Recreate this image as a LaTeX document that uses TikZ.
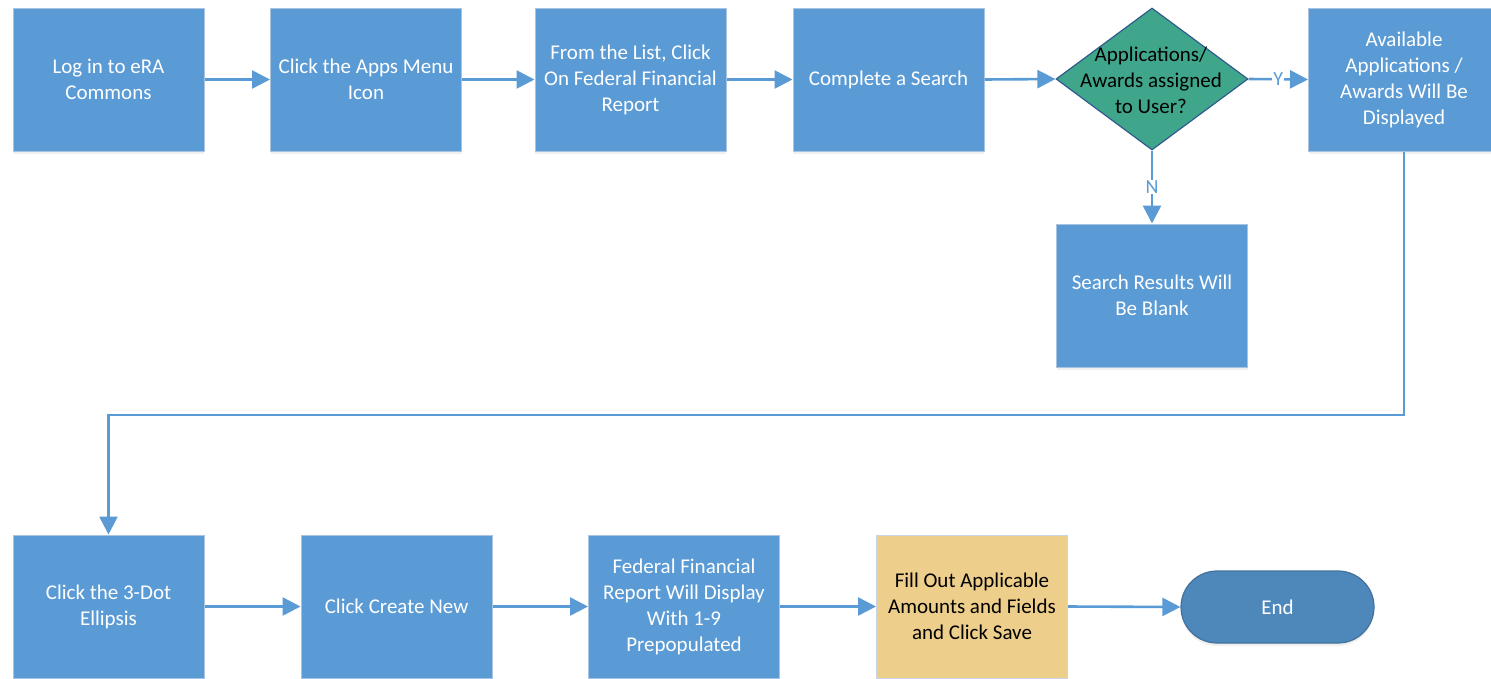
\documentclass[tikz,border=0pt]{standalone}
\usepackage{fontspec}
\setmainfont{Carlito}
\usetikzlibrary{arrows.meta,shapes.geometric,shadows}
\definecolor{boxblue}{HTML}{5B9BD5}
\definecolor{boxedge}{HTML}{A9C3E0}
\definecolor{diafill}{HTML}{40A68B}
\definecolor{diaedge}{HTML}{2F5B8C}
\definecolor{yel}{HTML}{EECE8B}
\definecolor{yeledge}{HTML}{C9D6E8}
\definecolor{endfill}{HTML}{4E88BB}
\definecolor{endedge}{HTML}{41719C}
\tikzset{
  x=1pt, y=-1pt,
  every node/.style={font=\fontsize{21}{26}\selectfont},
  stepbox/.style={rectangle, draw=boxedge, line width=1pt, fill=boxblue, text=white,
    minimum width=191pt, minimum height=143pt, align=center, inner sep=0pt,
    drop shadow={opacity=0.12, shadow xshift=0pt, shadow yshift=-3pt}},
  yelbox/.style={stepbox, fill=yel, draw=yeledge, text=black},
  dia/.style={diamond, draw=diaedge, line width=1.2pt, fill=diafill, inner sep=0pt,
    minimum width=192pt, minimum height=142pt, aspect=1.35},
  term/.style={rectangle, rounded corners=36pt, draw=endedge, line width=1.2pt, fill=endfill,
    text=white, minimum width=193pt, minimum height=72pt, inner sep=0pt,
    drop shadow={opacity=0.12, shadow xshift=0pt, shadow yshift=-3pt}},
  conn/.style={draw=boxblue, line width=2.6pt, -{Triangle[length=18pt,width=18pt]}},
  yn/.style={fill=white, text=boxblue, inner sep=1pt, font=\fontsize{20}{24}\selectfont}
}
\begin{document}
\begin{tikzpicture}
\useasboundingbox (0,0) rectangle (1491,678);
% top row
\node[stepbox] (b1) at (108.5,79.5) {Log in to eRA\\Commons};
\node[stepbox] (b2) at (366,79.5) {Click the Apps Menu\\Icon};
\node[stepbox] (b3) at (630.5,79.5) {From the List, Click\\On Federal Financial\\Report};
\node[stepbox] (b4) at (888.5,79.5) {Complete a Search};
\node[dia] (d) at (1152,79) {};
\node[text=black, align=center, inner sep=0pt] (dt) at (1151,80) {Applications/\\Awards assigned\\to User?};
\node[stepbox] (b6) at (1404,79.5) {Available\\Applications /\\Awards Will Be\\Displayed};
\node[stepbox] (b5) at (1152,295.5) {Search Results Will\\Be Blank};
% bottom row
\node[stepbox] (b7) at (108.5,606.5) {Click the 3-Dot\\Ellipsis};
\node[stepbox] (b8) at (396.5,606.5) {Click Create New};
\node[stepbox] (b9) at (684,606.5) {Federal Financial\\Report Will Display\\With 1-9\\Prepopulated};
\node[yelbox] (b10) at (972,606.5) {Fill Out Applicable\\Amounts and Fields\\and Click Save};
\node[term] (e) at (1277.5,607) {End};
% connectors
\draw[conn] (b1.east) -- (b2.west);
\draw[conn] (b2.east) -- (b3.west);
\draw[conn] (b3.east) -- (b4.west);
\draw[conn] (b4.east) -- (d.west);
\draw[conn] (d.east) -- node[yn] {Y} (b6.west);
\draw[conn] (d.south) -- node[yn] {N} (b5.north);
\coordinate (turn) at (1404,415);
\draw[conn] (b6.south) -- (turn) -| (b7.north);
\draw[conn] (b7.east) -- (b8.west);
\draw[conn] (b8.east) -- (b9.west);
\draw[conn] (b9.east) -- (b10.west);
\draw[conn] (b10.east) -- (e.west);
\end{tikzpicture}
\end{document}
